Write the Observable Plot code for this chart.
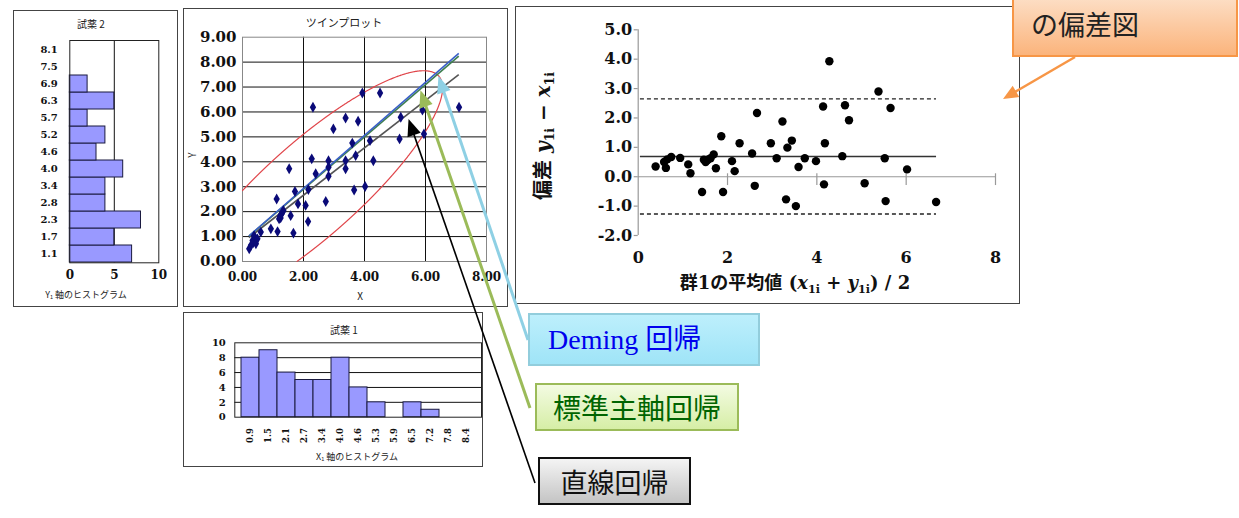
<!DOCTYPE html>
<html><head><meta charset="utf-8">
<script src="https://cdn.jsdelivr.net/npm/d3@7"></script>
<script src="https://cdn.jsdelivr.net/npm/@observablehq/plot@0.6"></script>
<style>
body{margin:0;background:#fff;}
#page{position:relative;width:1239px;height:518px;overflow:hidden;background:#fff;font-family:"Noto Sans CJK JP",sans-serif;}
.box{position:absolute;border:1.5px solid #444;box-sizing:border-box;}
.lbl{position:absolute;white-space:nowrap;transform:translate(-50%,-50%);line-height:1;color:#222;}
.plotwrap{position:absolute;}
.plotwrap svg{display:block;}
sub{font-size:0.62em;vertical-align:-0.35em;line-height:0;}
.anno{position:absolute;box-sizing:border-box;display:flex;align-items:center;white-space:nowrap;line-height:1;}
</style></head>
<body>
<div id="page">
  <div class="box" style="left:13px;top:10px;width:165px;height:297px"></div>
  <div class="box" style="left:183px;top:8px;width:325px;height:299px"></div>
  <div class="box" style="left:183px;top:312px;width:300px;height:155px"></div>
  <div class="box" style="left:515px;top:6px;width:505px;height:298px"></div>

  <div class="lbl" style="left:91px;top:24px;font-size:10px">試薬 2</div>
  <div class="lbl" style="left:86px;top:294px;font-size:9px">Y<sub>1</sub> 軸のヒストグラム</div>
  <div class="lbl" style="left:344px;top:22px;font-size:11px">ツインプロット</div>
  <div class="lbl" style="left:360px;top:296px;font-size:10px">X</div>
  <div class="lbl" style="left:192px;top:155px;font-size:10px;transform:translate(-50%,-50%) rotate(-90deg)">Y</div>
  <div class="lbl" style="left:344px;top:330px;font-size:10px">試薬 1</div>
  <div class="lbl" style="left:357px;top:456px;font-size:9px">X<sub>1</sub> 軸のヒストグラム</div>
  <div class="lbl" style="left:543px;top:136px;font-size:20px;font-weight:bold;font-family:'DejaVu Serif','Noto Sans CJK JP',serif;color:#111;transform:translate(-50%,-50%) rotate(-90deg)">偏差 <i>y</i><sub>1i</sub> − <i>x</i><sub>1i</sub></div>
  <div class="lbl" style="left:795px;top:283px;font-size:18px;font-weight:bold;font-family:'DejaVu Serif','Noto Sans CJK JP',serif;color:#111">群1の平均値 (<i>x</i><sub>1i</sub> + <i>y</i><sub>1i</sub>) / 2</div>

  <div id="histY" class="plotwrap" style="left:25px;top:30px"></div>
  <div id="scatter" class="plotwrap" style="left:185px;top:30px"></div>
  <div id="histX" class="plotwrap" style="left:190px;top:330px"></div>
  <div id="ba" class="plotwrap" style="left:530px;top:15px"></div>

  <div class="anno" style="left:1012px;top:-12px;width:226px;height:69px;border:2px solid #f79646;background:linear-gradient(#fde4cf,#fbb47c);padding-left:17px;padding-top:2px;font-size:27px;color:#222">の偏差図</div>
  <div class="anno" style="left:528px;top:313px;width:232px;height:53px;border:2px solid #92cddc;background:linear-gradient(#bdeffc,#9fe4f7);padding-left:18px;font-size:28px;color:#0000ee;font-family:'Liberation Serif','Noto Sans CJK JP',serif">Deming&nbsp;回帰</div>
  <div class="anno" style="left:535px;top:383px;width:204px;height:48px;border:2px solid #9bbb59;background:linear-gradient(#f3fbe2,#d6eea6);justify-content:center;font-size:28px;color:#006400">標準主軸回帰</div>
  <div class="anno" style="left:538px;top:457px;width:153px;height:48px;border:2px solid #111;background:linear-gradient(#f4f4f4,#c4c4c4);justify-content:center;font-size:27px;color:#111">直線回帰</div>
</div>
<script>
// ---------- data ----------
const histYBins = ["1.1","1.7","2.3","2.8","3.4","4.0","4.6","5.2","5.7","6.3","6.9","7.5","8.1"];
const histYCounts = [7,5,8,4,4,6,3,4,2,5,2,0,0];
const histXBins = ["0.9","1.5","2.1","2.7","3.4","4.0","4.6","5.3","5.9","6.5","7.2","7.8","8.4"];
const histXCounts = [8,9,6,5,5,8,4,2,0,2,1,0,0];

const scatterX = [0.22,0.28,0.33,0.35,0.38,0.44,0.49,0.60,0.93,1.12,1.15,1.20,1.23,1.25,1.28,1.31,1.34,1.53,1.58,1.67,1.72,1.82,2.07,2.15,2.16,2.27,2.31,2.40,2.73,2.82,2.82,2.82,2.98,3.38,3.38,3.38,3.60,3.66,3.71,3.79,3.93,4.02,4.18,4.29,4.51,5.15,5.19,5.90,5.95,7.10];
const scatterY = [0.51,0.65,0.84,0.75,1.04,0.71,0.91,1.18,1.31,2.51,1.20,1.71,1.82,1.75,1.91,1.98,2.05,3.72,1.84,1.14,2.81,2.31,2.25,1.60,2.89,4.12,6.19,3.52,2.41,4.04,3.78,3.42,5.32,5.76,4.04,3.72,4.75,2.87,4.25,5.63,6.76,3.01,4.85,4.04,6.76,4.92,5.79,6.08,5.12,6.19];

const regNames = ["直線回帰","標準主軸回帰","Deming 回帰"];
const regIntercepts = [0.76, 0.80, 0.80];
const regSlopes = [0.95, 1.05, 1.065];
const regColors = ["#555555","#3f7f4f","#3a5fc8"];
const regXRange = [0.21, 7.09];

// points read along the red confidence ellipse (visible part)
const ellipseTraceX = [0,1.74,1.96,2.94,4.2,5.29,6.06,6.33,6.49,6.44,6.16,5.4,4.63,4.14,3.05,1.57];
const ellipseTraceY = [2.85,4.79,5.06,5.97,7.0,7.47,7.74,7.6,7.27,6.53,5.73,4.06,3.12,2.45,1.11,0];

const baMean = [0.39,0.58,0.62,0.65,0.74,0.94,1.12,1.17,1.43,1.47,1.51,1.53,1.56,1.62,1.69,1.74,1.86,1.90,2.10,2.16,2.27,2.55,2.61,2.66,2.97,3.10,3.23,3.31,3.34,3.44,3.53,3.59,3.73,3.98,4.14,4.16,4.18,4.28,4.57,4.63,4.72,5.07,5.38,5.52,5.54,5.65,6.02,6.67];
const baDiff = [0.35,0.50,0.30,0.59,0.67,0.64,0.42,0.12,-0.52,0.58,0.50,0.55,0.58,0.63,0.76,0.29,1.38,-0.52,0.53,0.19,1.14,0.79,-0.31,2.17,1.14,0.63,1.88,-0.77,0.99,1.23,-1.00,0.33,0.63,0.53,2.39,-0.26,1.14,3.93,0.70,2.43,1.92,-0.22,2.90,0.63,-0.83,2.34,0.25,-0.86];
const baMeanDiff = 0.69;
const baLimits = [2.65, -1.27];
const baLineRange = [0.05, 6.68];

const barFill = "#9999ff";

// ---------- left histogram (Y1) ----------
const histYData = histYBins.map((b,i)=>({bin:b,count:histYCounts[i]}));
const histYPlot = Plot.plot({
  width:150, height:262, marginLeft:44.3, marginRight:16.7, marginTop:10, marginBottom:29.7,
  style:{background:"transparent",overflow:"visible",fontFamily:"DejaVu Serif",fontWeight:"bold",fontSize:"10px",color:"#111"},
  x:{domain:[0,10]},
  y:{domain:histYBins.slice().reverse(), padding:0},
  marks:[
    Plot.ruleX([5],{stroke:"#111"}),
    Plot.barX(histYData,{x:"count",y:"bin",fill:barFill,stroke:"#1a1a40",strokeWidth:1}),
    Plot.frame({stroke:"#222"}),
    Plot.axisY({tickSize:0,tickPadding:12,label:null,fontSize:10}),
    Plot.axisX({ticks:[0,5,10],tickSize:0,tickPadding:8,label:null,fontSize:12})
  ]
});
document.getElementById("histY").append(histYPlot);

// ---------- twin plot ----------
const scatterData = scatterX.map((x,i)=>({x,y:scatterY[i]}));
const regData = regNames.map((n,i)=>({name:n,x1:regXRange[0],x2:regXRange[1],
  y1:regIntercepts[i]+regSlopes[i]*regXRange[0], y2:regIntercepts[i]+regSlopes[i]*regXRange[1], color:regColors[i]}));

// least-squares conic through the traced ellipse points: A x² + B xy + C y² + D x + E y = 1
function fitConic(xs, ys){
  const N = Array.from({length:5},()=>new Array(5).fill(0)), b = new Array(5).fill(0);
  xs.forEach((x,i)=>{const y=ys[i]; const r=[x*x,x*y,y*y,x,y];
    for(let p=0;p<5;p++){b[p]+=r[p]; for(let q=0;q<5;q++) N[p][q]+=r[p]*r[q];}});
  for(let c=0;c<5;c++){ // gaussian elimination
    let piv=c; for(let r=c+1;r<5;r++) if(Math.abs(N[r][c])>Math.abs(N[piv][c])) piv=r;
    [N[c],N[piv]]=[N[piv],N[c]]; [b[c],b[piv]]=[b[piv],b[c]];
    for(let r=0;r<5;r++){ if(r===c) continue; const f=N[r][c]/N[c][c];
      for(let q=c;q<5;q++) N[r][q]-=f*N[c][q]; b[r]-=f*b[c]; }
  }
  return b.map((v,i)=>v/N[i][i]);
}
const [cA,cB,cC,cD,cE] = fitConic(ellipseTraceX, ellipseTraceY);
const det = 4*cA*cC - cB*cB;
const ex0 = (-2*cC*cD + cB*cE)/det, ey0 = (-2*cA*cE + cB*cD)/det;
const ek = 1 - (cA*ex0*ex0 + cB*ex0*ey0 + cC*ey0*ey0 + cD*ex0 + cE*ey0);
const ellPts = [];
{
  let seg=0, prevIn=false; const Nn=2880;
  for(let k=0;k<=Nn;k++){
    const f=2*Math.PI*k/Nn, c=Math.cos(f), s=Math.sin(f);
    const q=cA*c*c+cB*c*s+cC*s*s, r=Math.sqrt(ek/q);
    const x=ex0+r*c, y=ey0+r*s;
    const inside = x>=0 && x<=8 && y>=0 && y<=9;
    if(inside && !prevIn) seg++;
    if(inside) ellPts.push({x,y,seg});
    prevIn=inside;
  }
}
const scatterPlot = Plot.plot({
  width:320, height:275, marginLeft:57, marginRight:19, marginTop:6.7, marginBottom:44,
  style:{background:"transparent",overflow:"visible",fontFamily:"DejaVu Serif",fontWeight:"bold",fontSize:"12px",color:"#111"},
  x:{domain:[0,8]}, y:{domain:[0,9]},
  marks:[
    Plot.ruleY(d3.range(1,9),{stroke:"#111",strokeWidth:1}),
    Plot.ruleX([2,4,6],{stroke:"#111",strokeWidth:1}),
    Plot.frame({stroke:"#888"}),
    Plot.line(ellPts,{x:"x",y:"y",z:"seg",stroke:"#e0454a",strokeWidth:1.2}),
    Plot.link(regData,{x1:"x1",y1:"y1",x2:"x2",y2:"y2",stroke:"color",strokeWidth:1.6}),
    Plot.dot(scatterData,{x:"x",y:"y",symbol:"diamond",r:3.3,fill:"#0a0a78",stroke:"none"}),
    Plot.axisY({ticks:d3.range(0,10),tickSize:0,tickPadding:6,tickFormat:d=>d.toFixed(2),label:null,fontSize:15}),
    Plot.axisX({ticks:[0,2,4,6,8],tickSize:0,tickPadding:11,tickFormat:d=>d.toFixed(2),label:null,fontSize:12})
  ]
});
document.getElementById("scatter").append(scatterPlot);

// ---------- bottom histogram (X1) ----------
const histXData = histXBins.map((b,i)=>({bin:b,count:histXCounts[i]}));
const histXPlot = Plot.plot({
  width:297, height:120, marginLeft:44.3, marginRight:6, marginTop:12.3, marginBottom:33.3,
  style:{background:"transparent",overflow:"visible",fontFamily:"DejaVu Serif",fontWeight:"bold",fontSize:"10px",color:"#111"},
  x:{domain:histXBins, padding:0},
  y:{domain:[0,10]},
  marks:[
    Plot.ruleY([2,4,6,8],{stroke:"#111"}),
    Plot.barY(histXData,{x:"bin",y:"count",fill:barFill,stroke:"#1a1a40",strokeWidth:1}),
    Plot.frame({stroke:"#222"}),
    Plot.axisY({ticks:[0,2,4,6,8,10],tickSize:0,tickPadding:9,label:null,fontSize:10}),
    Plot.axisX({tickSize:0,tickPadding:11,tickRotate:-90,label:null,fontSize:8.5})
  ]
});
document.getElementById("histX").append(histXPlot);

// ---------- Bland-Altman ----------
const baData = baMean.map((m,i)=>({m,d:baDiff[i]}));
const baPlot = Plot.plot({
  width:480, height:285, marginLeft:107.7, marginRight:15, marginTop:14.3, marginBottom:65,
  style:{background:"transparent",overflow:"visible",fontFamily:"DejaVu Serif",fontWeight:"bold",fontSize:"16px",color:"#111"},
  x:{domain:[0,8]}, y:{domain:[-2,5]},
  marks:[
    Plot.ruleX([0],{y1:-2,y2:5,stroke:"#999",strokeWidth:1.2}),
    Plot.ruleY(d3.range(-2,6),{x1:-0.09,x2:0,stroke:"#999",strokeWidth:1.2}),
    Plot.ruleY([0],{x1:0,x2:8,stroke:"#999",strokeWidth:1.2}),
    Plot.ruleX([2,4,6,8],{y1:0.1,y2:-0.3,stroke:"#999",strokeWidth:1.2}),
    Plot.ruleY([baMeanDiff],{x1:baLineRange[0],x2:baLineRange[1],stroke:"#333",strokeWidth:1.5}),
    Plot.ruleY(baLimits,{x1:baLineRange[0],x2:baLineRange[1],stroke:"#222",strokeWidth:1.4,strokeDasharray:"4,3"}),
    Plot.dot(baData,{x:"m",y:"d",r:4.2,fill:"#000",stroke:"none"}),
    Plot.axisY({ticks:d3.range(-2,6),tickSize:0,tickPadding:6,tickFormat:d=>d.toFixed(1),label:null,fontSize:16}),
    Plot.axisX({ticks:[0,2,4,6,8],tickSize:0,tickPadding:16,label:null,fontSize:16})
  ]
});
document.getElementById("ba").append(baPlot);

// ---------- annotation arrows ----------
const page = d3.select("#page");
const ov = page.append("svg").attr("width",1239).attr("height",518)
  .style("position","absolute").style("left","0").style("top","0").style("pointer-events","none");
const sx = scatterPlot.scale("x"), sy = scatterPlot.scale("y");
const scOff = [185,30];
const tip = (x,y)=>[scOff[0]+sx.apply(x), scOff[1]+sy.apply(y)];
function arrow(x1,y1,x2,y2,color,w,hl,hw){
  const dx=x2-x1, dy=y2-y1, L=Math.hypot(dx,dy), ux=dx/L, uy=dy/L;
  const bx=x2-ux*hl, by=y2-uy*hl;
  ov.append("line").attr("x1",x1).attr("y1",y1).attr("x2",bx+ux*2).attr("y2",by+uy*2)
    .attr("stroke",color).attr("stroke-width",w);
  ov.append("polygon").attr("points",
    [[x2,y2],[bx-uy*hw/2,by+ux*hw/2],[bx+uy*hw/2,by-ux*hw/2]].map(p=>p.join(",")).join(" "))
    .attr("fill",color);
}
const tDeming = tip(6.44,7.42), tSMA = tip(5.85,6.85), tOLS = tip(5.46,5.70);
arrow(528,340,tDeming[0],tDeming[1],"#8ed0e4",3,17,14);
arrow(530,408,tSMA[0],tSMA[1],"#9bbb59",3,17,14);
arrow(535,483,tOLS[0],tOLS[1],"#000",1.6,17,14);
arrow(1075,57,1003,99,"#f79646",2.5,15,13);
</script>
</body></html>
